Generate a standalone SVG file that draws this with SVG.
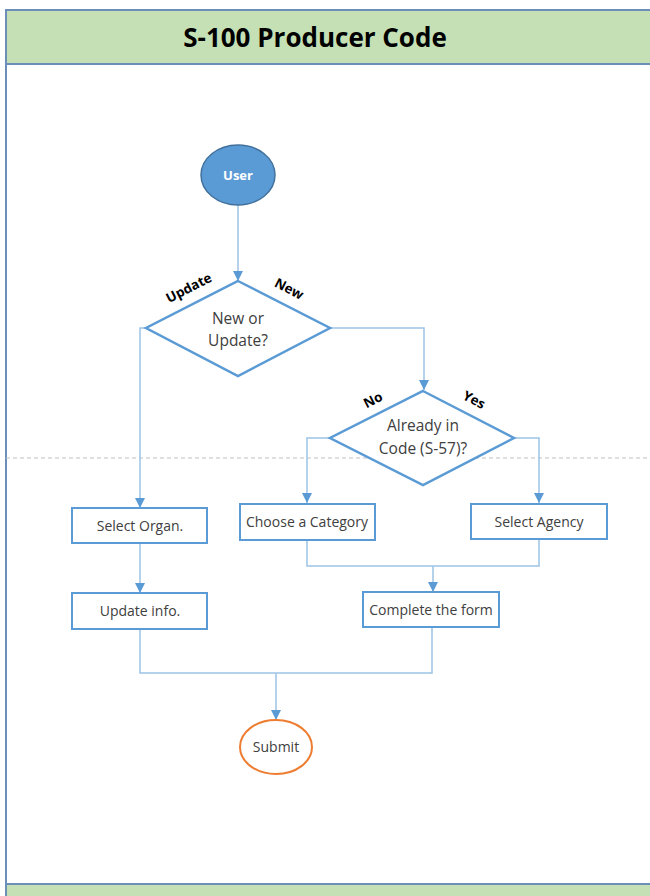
<svg xmlns="http://www.w3.org/2000/svg" width="650" height="896" viewBox="0 0 650 896">
<defs>
<marker id="arr" viewBox="0 0 10 10" refX="10" refY="5" markerWidth="10" markerHeight="10" markerUnits="userSpaceOnUse" orient="auto">
<path d="M0,0 L10,5 L0,10 z" fill="#5B9BD5"/>
</marker>
<style>
.band{fill:#C5E0B4;stroke:#6B8FB8;stroke-width:2}
.box{fill:#fff;stroke:#5B9BD5;stroke-width:2}
.dia{fill:#fff;stroke:#5B9BD5;stroke-width:2.5}
.conn{fill:none;stroke:#9DC3E6;stroke-width:1.5}
.t{font-family:"Open Sans","Liberation Sans",sans-serif;font-size:14px;fill:#404040;text-anchor:middle}
.d{font-family:"Open Sans","Liberation Sans",sans-serif;font-size:15.5px;fill:#404040;text-anchor:middle}
.lbl{font-family:"Open Sans","Liberation Sans",sans-serif;font-size:13.5px;font-weight:bold;fill:#000;text-anchor:middle}
</style>
</defs>
<rect x="0" y="0" width="650" height="896" fill="#fff"/>
<g id="lane">
<line x1="6" y1="10" x2="6" y2="896" stroke="#6B8FB8" stroke-width="2"/>
<rect x="6" y="10" width="650" height="54" class="band"/>
<rect x="6" y="884" width="650" height="20" class="band"/>
<line x1="6" y1="458" x2="650" y2="458" stroke="#BFBFBF" stroke-width="1" stroke-dasharray="4,3"/>
<text x="315" y="47" font-family="Open Sans, Liberation Sans, sans-serif" font-size="26" font-weight="bold" fill="#000" text-anchor="middle">S-100 Producer Code</text>
</g>
<g id="connectors">
<line x1="238" y1="205" x2="238" y2="281" class="conn" marker-end="url(#arr)"/>
<polyline points="146,328 140,328 140,508" class="conn" marker-end="url(#arr)"/>
<polyline points="330,328 424,328 424,390" class="conn" marker-end="url(#arr)"/>
<polyline points="330,438 307,438 307,503" class="conn" marker-end="url(#arr)"/>
<polyline points="514,438 539,438 539,503" class="conn" marker-end="url(#arr)"/>
<line x1="140" y1="543" x2="140" y2="593" class="conn" marker-end="url(#arr)"/>
<polyline points="307,540 307,566 539,566 539,539" class="conn"/>
<line x1="433" y1="566" x2="433" y2="592" class="conn" marker-end="url(#arr)"/>
<polyline points="140,629 140,673 432,673 432,627" class="conn"/>
<line x1="276" y1="673" x2="276" y2="720" class="conn" marker-end="url(#arr)"/>
<text class="lbl" transform="translate(191,292) rotate(-27)">Update</text>
<text class="lbl" transform="translate(287,293) rotate(27)">New</text>
<text class="lbl" transform="translate(375,404) rotate(-27)">No</text>
<text class="lbl" transform="translate(472,404) rotate(27)">Yes</text>
</g>
<g id="user">
<ellipse cx="238" cy="175" rx="37" ry="30" fill="#5B9BD5" stroke="#41719C" stroke-width="1.5"/>
<text x="238" y="180" font-family="Open Sans, Liberation Sans, sans-serif" font-size="13" font-weight="bold" fill="#fff" text-anchor="middle">User</text>
</g>
<g id="decision1">
<polygon points="238,281 330,328 238,376 146,328" class="dia"/>
<text x="238" y="324" class="d">New or</text>
<text x="238" y="346" class="d">Update?</text>
</g>
<g id="decision2">
<polygon points="423,391 514,438 423,485 330,438" class="dia"/>
<text x="423" y="431" class="d">Already in</text>
<text x="423" y="454" class="d">Code (S-57)?</text>
</g>
<g id="selectOrgan">
<rect x="72" y="508" width="135" height="35" class="box"/>
<text x="140" y="531" class="t">Select Organ.</text>
</g>
<g id="updateInfo">
<rect x="72" y="593" width="135" height="36" class="box"/>
<text x="140" y="616" class="t">Update info.</text>
</g>
<g id="chooseCategory">
<rect x="240" y="504" width="135" height="36" class="box"/>
<text x="307" y="527" class="t">Choose a Category</text>
</g>
<g id="selectAgency">
<rect x="471" y="504" width="136" height="35" class="box"/>
<text x="539" y="527" class="t">Select Agency</text>
</g>
<g id="completeForm">
<rect x="363" y="592" width="136" height="35" class="box"/>
<text x="431" y="615" class="t">Complete the form</text>
</g>
<g id="submit">
<ellipse cx="276" cy="747" rx="36" ry="27" fill="#fff" stroke="#ED7D31" stroke-width="2"/>
<text x="276" y="752" class="t">Submit</text>
</g>
</svg>
